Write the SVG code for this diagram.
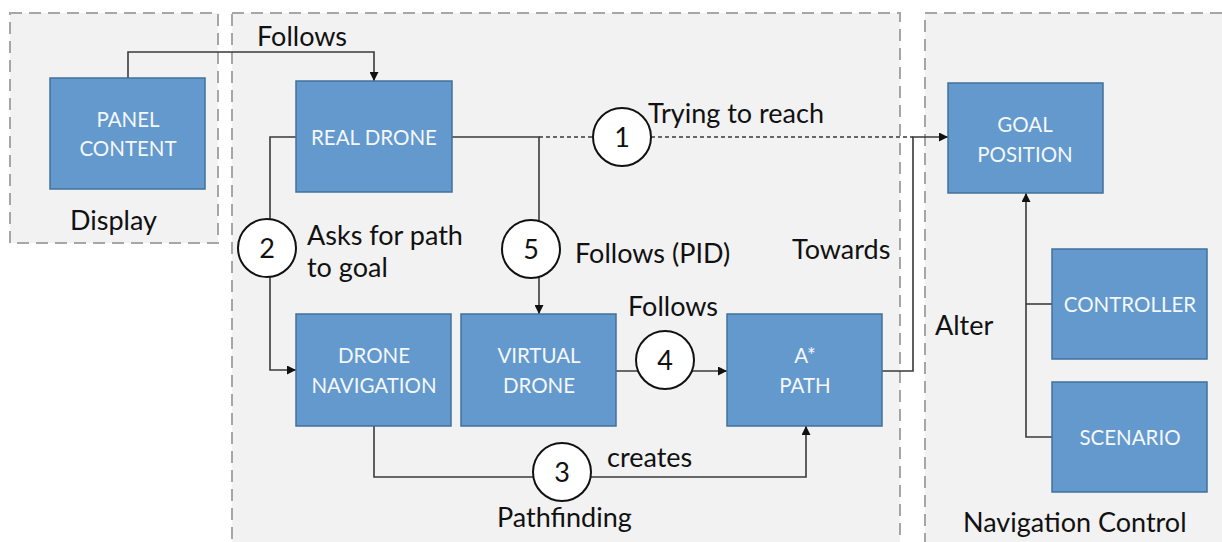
<svg xmlns="http://www.w3.org/2000/svg" width="1222" height="542" viewBox="0 0 1222 542">
<style>
.cont{fill:#f2f2f2;stroke:#a6a6a6;stroke-width:2;stroke-dasharray:12 7}
.box{fill:#6399cd;stroke:#41719c;stroke-width:1.5}
.bt{font-family:Lato,"Liberation Sans",sans-serif;font-size:20.5px;fill:#f4f7fb;text-anchor:middle}
.lb{font-family:Lato,"Liberation Sans",sans-serif;font-size:27px;fill:#111}
.ln{fill:none;stroke:#3a3a3a;stroke-width:1.6}
.dash{stroke-dasharray:4 3}
.num circle{fill:#fff;stroke:#111;stroke-width:2}
.num text{font-family:Lato,"Liberation Sans",sans-serif;font-size:27px;fill:#111;text-anchor:middle}
</style>
<defs>
<marker id="arr" viewBox="0 0 10 10" refX="10" refY="5" markerWidth="9" markerHeight="9" markerUnits="userSpaceOnUse" orient="auto">
<path d="M0,0 L10,5 L0,10 z" fill="#111"/>
</marker>
</defs>
<rect width="1222" height="542" fill="#ffffff"/>
<g id="containers">
<rect class="cont" x="10" y="13" width="208" height="230"/>
<rect class="cont" x="232" y="13" width="668" height="545"/>
<rect class="cont" x="925" y="13" width="310" height="545"/>
<text class="lb" x="70" y="230">Display</text>
<text class="lb" x="497" y="527">Pathfinding</text>
<text class="lb" x="963" y="532">Navigation Control</text>
</g>
<g id="connectors">
<path class="ln" d="M128,78 V52 H374 V81" marker-end="url(#arr)"/>
<path class="ln" d="M296,137 H270 V370 H296" marker-end="url(#arr)"/>
<path class="ln" d="M452,137 H539 V314" marker-end="url(#arr)"/>
<path class="ln dash" d="M539,137 H913"/>
<path class="ln" d="M616,371 H727" marker-end="url(#arr)"/>
<path class="ln" d="M374,426 V477 H806 V426" marker-end="url(#arr)"/>
<path class="ln" d="M882,371 H913 V137 H948" marker-end="url(#arr)"/>
<path class="ln" d="M1052,437 H1026 V193" marker-end="url(#arr)"/>
<path class="ln" d="M1052,304 H1026"/>
<text class="lb" x="257" y="46">Follows</text>
<text class="lb" x="648" y="123">Trying to reach</text>
<text class="lb" x="307" y="245">Asks for path</text>
<text class="lb" x="307" y="277">to goal</text>
<text class="lb" x="575" y="263">Follows (PID)</text>
<text class="lb" x="792" y="259">Towards</text>
<text class="lb" x="628" y="316">Follows</text>
<text class="lb" x="607" y="467">creates</text>
<text class="lb" x="935" y="335">Alter</text>
<g class="num"><circle cx="622" cy="137" r="29"/><text x="622" y="147">1</text></g>
<g class="num"><circle cx="267" cy="248" r="29"/><text x="267" y="258">2</text></g>
<g class="num"><circle cx="562" cy="472" r="29"/><text x="562" y="482">3</text></g>
<g class="num"><circle cx="665" cy="360" r="29"/><text x="665" y="370">4</text></g>
<g class="num"><circle cx="531" cy="249" r="29"/><text x="531" y="259">5</text></g>
</g>
<g id="panel-content"><rect class="box" x="50" y="78" width="155" height="111"/><text class="bt" x="128" y="127">PANEL</text><text class="bt" x="128" y="156">CONTENT</text></g>
<g id="real-drone"><rect class="box" x="296" y="81" width="156" height="111"/><text class="bt" x="374" y="145">REAL DRONE</text></g>
<g id="drone-navigation"><rect class="box" x="296" y="314" width="155" height="112"/><text class="bt" x="374" y="363">DRONE</text><text class="bt" x="374" y="393">NAVIGATION</text></g>
<g id="virtual-drone"><rect class="box" x="461" y="314" width="155" height="112"/><text class="bt" x="539" y="363">VIRTUAL</text><text class="bt" x="539" y="393">DRONE</text></g>
<g id="a-star-path"><rect class="box" x="727" y="314" width="155" height="112"/><text class="bt" x="805" y="363">A*</text><text class="bt" x="805" y="393">PATH</text></g>
<g id="goal-position"><rect class="box" x="948" y="83" width="155" height="110"/><text class="bt" x="1025" y="132">GOAL</text><text class="bt" x="1025" y="162">POSITION</text></g>
<g id="controller"><rect class="box" x="1052" y="249" width="155" height="110"/><text class="bt" x="1130" y="312">CONTROLLER</text></g>
<g id="scenario"><rect class="box" x="1052" y="382" width="155" height="110"/><text class="bt" x="1130" y="445">SCENARIO</text></g>
</svg>
